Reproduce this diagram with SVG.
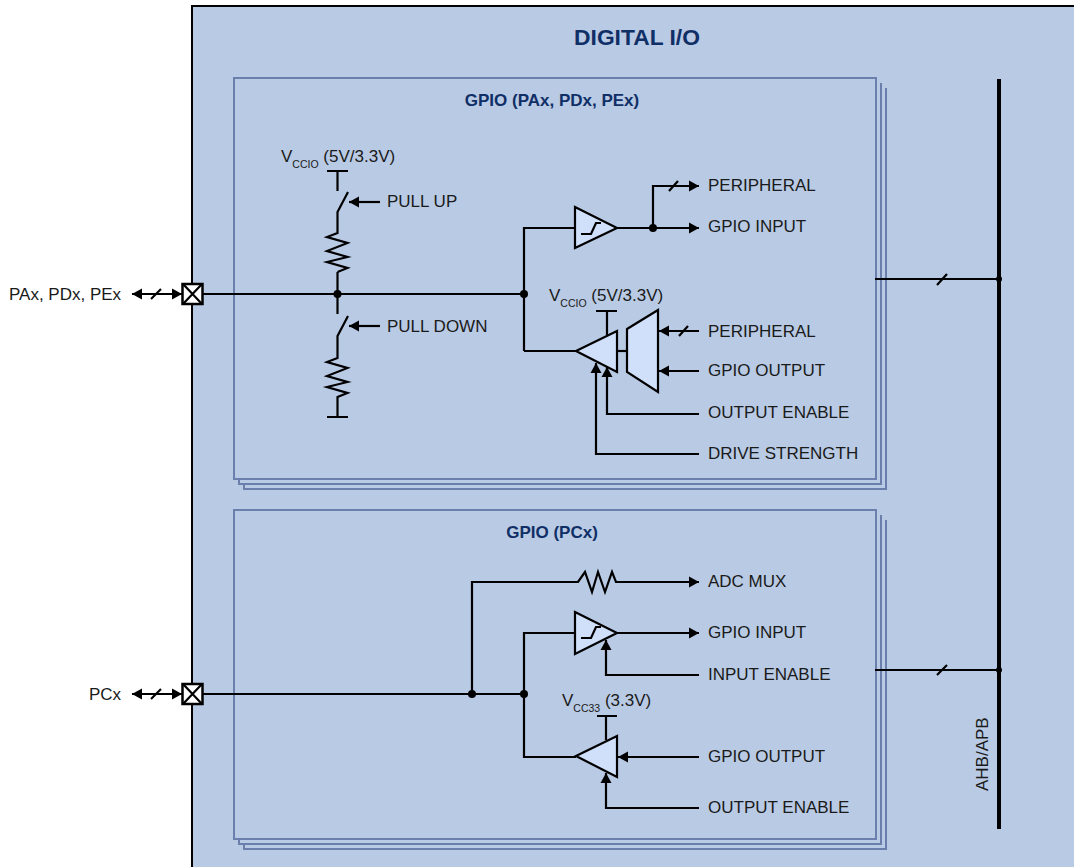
<svg xmlns="http://www.w3.org/2000/svg" width="1074" height="867" viewBox="0 0 1074 867">
<style>
text{font-family:"Liberation Sans",Arial,sans-serif;font-size:17px;fill:#1a1a1a}
.t{font-weight:bold;fill:#0f2f66;font-size:17px}
.sub{font-size:10.500px}
.w{fill:none;stroke:#000;stroke-width:2.200}
.b{fill:none;stroke:#6a7fab;stroke-width:2}
.f{fill:#d0dffa;stroke:#000;stroke-width:2.200}
.d{fill:#000}
</style>
<defs>
<marker id="a" markerUnits="userSpaceOnUse" markerWidth="11" markerHeight="12" refX="10" refY="6" orient="auto-start-reverse"><path d="M0 0.5L10 6L0 11.500Z" fill="#000"/></marker>
</defs>
<rect id="panel" x="192" y="6" width="890" height="870" fill="#b9cae4" stroke="#000" stroke-width="2"/>
<text x="637" y="45" text-anchor="middle" style="font-size:22.800px;font-weight:bold;fill:#0f2f66">DIGITAL I/O</text>
<g id="gpio-a">
<path class="b" d="M881 83V484H239V479M886 88V489H244V484"/>
<rect x="234" y="78" width="642" height="401" fill="#b9cae4" stroke="#6a7fab" stroke-width="2"/>
<text class="t" x="552" y="106" text-anchor="middle">GPIO (PAx, PDx, PEx)</text>
</g>
<g id="gpio-b">
<path class="b" d="M881 515V844H239V839M886 520V849H244V844"/>
<rect x="234" y="510" width="642" height="329" fill="#b9cae4" stroke="#6a7fab" stroke-width="2"/>
<text class="t" x="552" y="538" text-anchor="middle">GPIO (PCx)</text>
</g>
<g id="connectors">
<path class="w" d="M203 294H524M337.500 294V272M337.500 294V314"/>
<path class="w" d="M327 171H348M337.500 171V191"/>
<path class="w" d="M348 192L337.500 212V233L327 237L347.500 243L327 251L347.500 257L327 262L347.500 268L337.500 272"/>
<path class="w" d="M348 316L337.500 336V358L327 362L347.500 368L327 376L347.500 382L327 387L347.500 393L337.500 397V417M327 417H348"/>
<path class="w" d="M380 202H349" marker-end="url(#a)"/>
<path class="w" d="M380 326H349" marker-end="url(#a)"/>
<path class="w" d="M524 351V228H575M524 351H576"/>
<path class="w" d="M617 228H699" marker-end="url(#a)"/>
<path class="w" d="M653 228V186H699" marker-end="url(#a)"/>
<path class="w" d="M669 191L678 181"/>
<path class="w" d="M596 311H617M607 311V335"/>
<path class="w" d="M617 351H627"/>
<path class="w" d="M699 331H659" marker-end="url(#a)"/>
<path class="w" d="M679 336L688 326"/>
<path class="w" d="M699 371H659" marker-end="url(#a)"/>
<path class="w" d="M699 414H607V367" marker-end="url(#a)"/>
<path class="w" d="M699 454H596V363" marker-end="url(#a)"/>
<path class="w" d="M132 294H182" marker-start="url(#a)" marker-end="url(#a)"/>
<path class="w" d="M151 299L161 289"/>
<path class="w" d="M132 694H182" marker-start="url(#a)" marker-end="url(#a)"/>
<path class="w" d="M151 699L161 689"/>
<path class="w" d="M203 694H524V633H575M472 694V582H578L585 572L592 592L598 572L605 592L612 572L616 582H699" marker-end="url(#a)"/>
<path class="w" d="M617 633H699" marker-end="url(#a)"/>
<path class="w" d="M699 675H606V640" marker-end="url(#a)"/>
<path class="w" d="M524 694V757H576"/>
<path class="w" d="M597 716H617M606 716V740"/>
<path class="w" d="M699 757H618" marker-end="url(#a)"/>
<path class="w" d="M699 808H606V773" marker-end="url(#a)"/>
<path class="w" d="M875 279H999M875 670H999M937 285L947 274M937 675L947 665"/>
<path d="M999 79V829" fill="none" stroke="#000" stroke-width="4"/>
<circle class="d" cx="337.500" cy="294" r="4"/>
<circle class="d" cx="524" cy="294" r="4"/>
<circle class="d" cx="653" cy="228" r="4"/>
<circle class="d" cx="472" cy="694" r="4"/>
<circle class="d" cx="524" cy="694" r="4"/>
<circle class="d" cx="999" cy="279" r="3"/>
<circle class="d" cx="999" cy="670" r="3"/>
</g>
<g id="pad-a"><rect x="182.500" y="284" width="20" height="20" fill="#fff" stroke="#000" stroke-width="2.500"/><path class="w" d="M183 284L202 304M202 284L183 304"/></g>
<g id="pad-b"><rect x="182.500" y="684" width="20" height="20" fill="#fff" stroke="#000" stroke-width="2.500"/><path class="w" d="M183 684L202 704M202 684L183 704"/></g>
<g id="buf-in-a"><path class="f" d="M575 207L617 228L575 248Z"/><path class="w" d="M581 234H591L596 223H601"/></g>
<g id="buf-out-a"><path class="f" d="M576 351L617 331V372Z"/></g>
<g id="mux"><path class="f" d="M627 329L658 310V392L627 372Z"/></g>
<g id="buf-in-b"><path class="f" d="M575 612L617 633L575 654Z"/><path class="w" d="M581 638H591L596 627H601"/></g>
<g id="buf-out-b"><path class="f" d="M576 756L617 736V777Z"/></g>
<g id="labels">
<text x="9" y="300">PAx, PDx, PEx</text>
<text x="89" y="700">PCx</text>
<text x="281" y="162">V<tspan class="sub" dy="6">CCIO</tspan><tspan dy="-6"> (5V/3.3V)</tspan></text>
<text x="549" y="301">V<tspan class="sub" dy="6">CCIO</tspan><tspan dy="-6"> (5V/3.3V)</tspan></text>
<text x="562" y="706">V<tspan class="sub" dy="6">CC33</tspan><tspan dy="-6"> (3.3V)</tspan></text>
<text x="387" y="207">PULL UP</text>
<text x="387" y="332">PULL DOWN</text>
<text x="708" y="191">PERIPHERAL</text>
<text x="708" y="232">GPIO INPUT</text>
<text x="708" y="337">PERIPHERAL</text>
<text x="708" y="376">GPIO OUTPUT</text>
<text x="708" y="418">OUTPUT ENABLE</text>
<text x="708" y="459">DRIVE STRENGTH</text>
<text x="708" y="587">ADC MUX</text>
<text x="708" y="638">GPIO INPUT</text>
<text x="708" y="680">INPUT ENABLE</text>
<text x="708" y="762">GPIO OUTPUT</text>
<text x="708" y="813">OUTPUT ENABLE</text>
<text transform="translate(988 791) rotate(-90)">AHB/APB</text>
</g>
</svg>
